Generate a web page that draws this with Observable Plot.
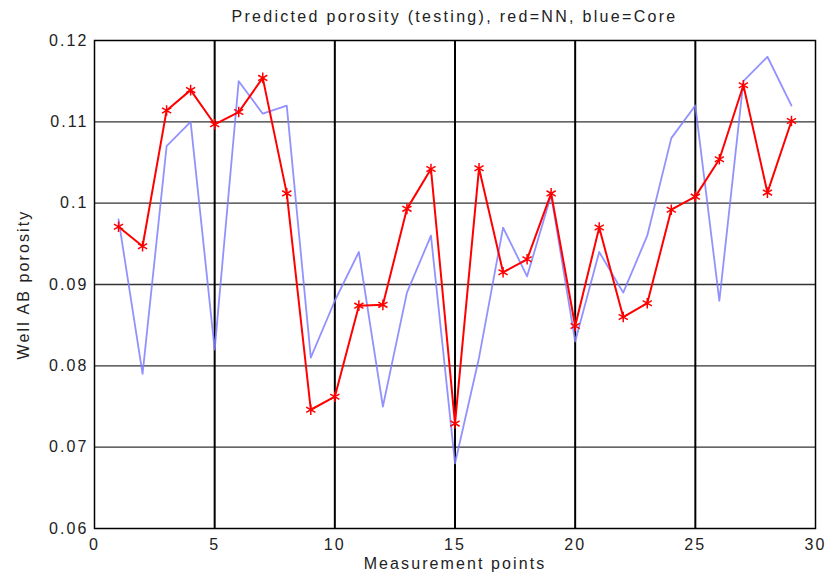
<!DOCTYPE html>
<html>
<head>
<meta charset="utf-8">
<script src="https://cdn.jsdelivr.net/npm/d3@7"></script>
<script src="https://cdn.jsdelivr.net/npm/@observablehq/plot@0.6"></script>
<style>
  html, body { margin: 0; padding: 0; background: #fff; }
  #title {
    box-sizing: border-box;
    width: 827px; height: 34px; line-height: 34px;
    padding-left: 94px; padding-right: 12px;
    text-align: center;
    font-family: "Liberation Sans", Arial, sans-serif;
    font-size: 16px; letter-spacing: 2.3px; color: #222;
  }
</style>
</head>
<body>
<div id="title">Predicted porosity (testing), red=NN, blue=Core</div>
<div id="chart"></div>
<script>
// Measurement point index along the well
const points = [1, 2, 3, 4, 5, 6, 7, 8, 9, 10, 11, 12, 13, 14, 15, 16, 17, 18, 19, 20, 21, 22, 23, 24, 25, 26, 27, 28, 29];

// Core porosity (blue)
const core = [0.098, 0.079, 0.107, 0.110, 0.082, 0.115, 0.111, 0.112, 0.081, 0.088,
              0.094, 0.075, 0.089, 0.096, 0.068, 0.081, 0.097, 0.091, 0.101, 0.083,
              0.094, 0.089, 0.096, 0.108, 0.112, 0.088, 0.115, 0.118, 0.112];

// Neural-network prediction (red)
const nn = [0.0971, 0.0947, 0.1114, 0.1139, 0.1097, 0.1112, 0.1154, 0.1012, 0.0746, 0.0762,
            0.0874, 0.0875, 0.0993, 0.1042, 0.0729, 0.1043, 0.0915, 0.0931, 0.1012, 0.0849,
            0.0970, 0.0860, 0.0877, 0.0992, 0.1008, 0.1054, 0.1145, 0.1013, 0.1101];

const xTicks = [0, 5, 10, 15, 20, 25, 30];
const yTicks = [0.06, 0.07, 0.08, 0.09, 0.10, 0.11, 0.12];

const coreRows = points.map((p, i) => ({x: p, y: core[i]}));
const nnRows = points.map((p, i) => ({x: p, y: nn[i]}));

const chart = Plot.plot({
  width: 827,
  height: 544,
  marginTop: 6,
  marginBottom: 50,
  marginLeft: 94,
  marginRight: 12,
  style: {
    fontFamily: "'Liberation Sans', Arial, sans-serif",
    fontSize: "16px",
    letterSpacing: "2.1px",
    color: "#222",
    background: "#fff",
    overflow: "visible"
  },
  x: {domain: [0, 30]},
  y: {domain: [0.06, 0.12]},
  marks: [
    // grid
    Plot.ruleY(yTicks.slice(1, -1), {stroke: "#333", strokeWidth: 1.4}),
    Plot.ruleX(xTicks.slice(1, -1), {stroke: "#000", strokeWidth: 2}),
    // axes
    Plot.axisX(xTicks, {tickSize: 0, tickPadding: 10, label: null, fill: "#222", fontSize: 16}),
    Plot.axisY(yTicks, {tickSize: 0, tickPadding: 6, label: null, fill: "#222", fontSize: 16,
                        tickFormat: d => String(+d.toFixed(3))}),
    Plot.text(["Measurement points"], {frameAnchor: "bottom", dy: 40, fill: "#222", fontSize: 16}),
    Plot.text(["Well AB porosity"], {frameAnchor: "left", textAnchor: "middle", dx: -71, rotate: -90,
                                     fill: "#222", fontSize: 16}),
    // series
    Plot.line(coreRows, {x: "x", y: "y", stroke: "#7f7fff", strokeWidth: 1.8, strokeOpacity: 0.85}),
    Plot.line(nnRows, {x: "x", y: "y", stroke: "#ff0000", strokeWidth: 2}),
    Plot.dot(nnRows, {x: "x", y: "y", symbol: "asterisk", r: 5, stroke: "#ff0000", strokeWidth: 1.5}),
    Plot.frame({stroke: "#000", strokeWidth: 1.5})
  ]
});

document.getElementById("chart").appendChild(chart);
</script>
</body>
</html>
